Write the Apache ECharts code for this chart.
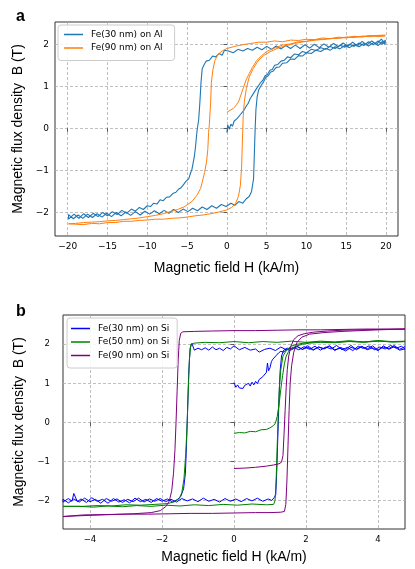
<!DOCTYPE html>
<html>
<head>
<meta charset="utf-8">
<script src="https://cdn.jsdelivr.net/npm/echarts@6/dist/echarts.min.js"></script>
<style>
html, body { margin: 0; padding: 0; background: #fff; }
#chart { width: 415px; height: 569px; }
</style>
</head>
<body>
<div id="chart"></div>
<script>
// ---- panel a: Fe on Al, H in kA/m, B in T ----
var al30Init = [[0,-0.1],[0.1,0.08],[0.3,-0.02],[0.5,0.1],[0.7,0.05],[0.9,0.17],[1.1,0.13],[1.3,0.24],[1.5,0.2],[1.7,0.33],[1.9,0.3],[2.1,0.42],[2.3,0.46],[2.5,0.55],[2.7,0.6],[2.9,0.7],[3.1,0.73],[3.3,0.82],[3.5,0.85],[3.7,0.94],[3.9,0.98],[4.2,1.08],[4.5,1.14],[4.8,1.25],[5.1,1.28],[5.4,1.38],[5.7,1.4],[6.0,1.5],[6.4,1.52],[6.8,1.6],[7.2,1.62],[7.6,1.7],[8.0,1.68],[8.5,1.77],[9.0,1.75],[9.5,1.83],[10,1.8],[10.6,1.88],[11.2,1.85],[11.8,1.92],[12.4,1.88],[13,1.95],[13.6,1.9],[14.2,1.98],[14.8,1.93],[15.4,2.0],[16,1.95],[16.6,2.03],[17.2,1.97],[17.8,2.06],[18.4,1.99],[19,2.08],[19.5,2.0],[19.9,2.1]];
var al30Down = [[19.9,2.02],[19.4,2.12],[18.8,2.0],[18.2,2.08],[17.6,1.98],[17,2.07],[16.4,1.96],[15.8,2.05],[15.2,1.95],[14.6,2.03],[14,1.94],[13.4,2.02],[12.8,1.93],[12.2,2.01],[11.6,1.92],[11,2.0],[10.4,1.91],[9.8,1.99],[9.2,1.9],[8.6,1.98],[8,1.9],[7.4,1.97],[6.8,1.89],[6.2,1.96],[5.6,1.88],[5,1.95],[4.4,1.87],[3.8,1.93],[3.2,1.86],[2.6,1.9],[2,1.84],[1.4,1.88],[0.8,1.8],[0.2,1.84],[-0.3,1.86],[-0.6,1.74],[-1,1.78],[-1.4,1.7],[-1.8,1.72],[-2.2,1.62],[-2.6,1.6],[-2.9,1.5],[-3.1,1.42],[-3.25,1.1],[-3.4,0.6],[-3.55,0.2],[-3.75,-0.05],[-3.95,-0.45],[-4.1,-0.68],[-4.4,-0.98],[-4.6,-1.08],[-4.8,-1.2],[-5.1,-1.25],[-5.5,-1.35],[-5.8,-1.42],[-6.1,-1.45],[-6.4,-1.52],[-6.8,-1.55],[-7.2,-1.63],[-7.6,-1.64],[-8,-1.72],[-8.4,-1.7],[-8.8,-1.8],[-9.2,-1.78],[-9.6,-1.86],[-10,-1.84],[-10.5,-1.93],[-11,-1.88],[-11.5,-1.97],[-12,-1.92],[-12.6,-2.02],[-13.2,-1.95],[-13.8,-2.05],[-14.4,-1.98],[-15,-2.08],[-15.6,-2.0],[-16.2,-2.1],[-16.8,-2.02],[-17.4,-2.12],[-18,-2.03],[-18.6,-2.14],[-19.2,-2.04],[-19.9,-2.16]];
var al30Up = [[-19.9,-2.05],[-19.3,-2.15],[-18.7,-2.06],[-18.1,-2.14],[-17.5,-2.04],[-16.9,-2.12],[-16.3,-2.03],[-15.7,-2.11],[-15.1,-2.02],[-14.5,-2.1],[-13.9,-2.0],[-13.3,-2.08],[-12.7,-1.99],[-12.1,-2.07],[-11.5,-1.98],[-10.9,-2.06],[-10.3,-1.97],[-9.7,-2.04],[-9.1,-1.96],[-8.5,-2.03],[-7.9,-1.95],[-7.3,-2.02],[-6.7,-1.93],[-6.1,-2.0],[-5.5,-1.92],[-4.9,-1.98],[-4.3,-1.9],[-3.7,-1.96],[-3.1,-1.87],[-2.5,-1.93],[-1.9,-1.84],[-1.3,-1.9],[-0.7,-1.81],[-0.1,-1.86],[0.5,-1.78],[1.0,-1.83],[1.5,-1.74],[2.0,-1.78],[2.4,-1.68],[2.8,-1.62],[3.1,-1.5],[3.35,-1.2],[3.45,-0.6],[3.55,0.0],[3.65,0.45],[3.8,0.75],[4.0,0.92],[4.3,1.02],[4.6,1.1],[4.9,1.22],[5.2,1.25],[5.5,1.34],[5.8,1.36],[6.2,1.45],[6.6,1.46],[7.0,1.55],[7.5,1.56],[8.0,1.65],[8.5,1.64],[9.0,1.73],[9.5,1.72],[10,1.8],[10.6,1.78],[11.2,1.86],[11.8,1.83],[12.4,1.9],[13,1.86],[13.6,1.94],[14.2,1.89],[14.8,1.97],[15.4,1.92],[16,1.99],[16.6,1.94],[17.2,2.02],[17.8,1.96],[18.4,2.04],[19,1.97],[19.5,2.06],[19.9,1.99]];

var al90Init = [[0,0.38],[0.4,0.43],[0.8,0.47],[1.2,0.56],[1.5,0.65],[1.8,0.82],[2.1,0.98],[2.4,1.15],[2.8,1.3],[3.2,1.45],[3.7,1.6],[4.3,1.72],[5,1.83],[6,1.91],[7,1.98],[8,2.01],[9,2.06],[10,2.07],[11,2.11],[12,2.11],[13,2.14],[14,2.14],[15,2.17],[16,2.16],[17,2.19],[18,2.18],[19,2.21],[19.9,2.2]];
var al90Down = [[19.9,2.22],[19,2.18],[18,2.21],[17,2.17],[16,2.19],[15,2.15],[14,2.17],[13,2.13],[12,2.15],[11,2.11],[10,2.12],[9,2.09],[8,2.1],[7,2.06],[6,2.08],[5,2.05],[4,2.05],[3,2.02],[2,1.99],[1,1.95],[0,1.9],[-0.6,1.84],[-1.1,1.76],[-1.5,1.62],[-1.75,1.4],[-1.95,1.1],[-2.05,0.6],[-2.2,0.1],[-2.3,-0.1],[-2.4,-0.5],[-2.55,-0.78],[-2.8,-1.05],[-3.3,-1.43],[-3.8,-1.6],[-4.4,-1.74],[-5.4,-1.87],[-6.2,-1.93],[-7.1,-1.98],[-8,-2.03],[-9,-2.07],[-10,-2.1],[-11,-2.13],[-12,-2.15],[-13,-2.17],[-14,-2.19],[-15,-2.2],[-16,-2.22],[-17,-2.23],[-18,-2.24],[-19,-2.26],[-19.9,-2.27]];
var al90Up = [[-19.9,-2.3],[-19,-2.28],[-18,-2.29],[-17,-2.26],[-16,-2.27],[-15,-2.24],[-14,-2.24],[-13,-2.21],[-12,-2.21],[-11,-2.19],[-10,-2.18],[-9,-2.16],[-8,-2.16],[-7,-2.14],[-6,-2.13],[-5,-2.11],[-4,-2.08],[-3,-2.06],[-2,-2.03],[-1,-1.99],[0,-1.94],[0.6,-1.88],[1.1,-1.78],[1.45,-1.62],[1.7,-1.35],[1.85,-0.9],[1.95,-0.3],[2.05,0.3],[2.2,0.65],[2.45,0.95],[2.8,1.22],[3.3,1.42],[3.9,1.6],[4.6,1.73],[5.4,1.82],[6.3,1.9],[7.3,1.96],[8.5,2.02],[10,2.07],[12,2.12],[14,2.15],[16,2.18],[18,2.2],[19.9,2.22]];

// ---- panel b: Fe on Si ----
var si30Init = [[0,1.02],[0.05,0.9],[0.1,0.96],[0.15,0.88],[0.2,0.93],[0.25,0.87],[0.3,0.95],[0.35,0.9],[0.4,1.0],[0.45,0.93],[0.5,1.03],[0.55,0.96],[0.6,1.05],[0.65,0.99],[0.7,1.1],[0.75,1.06],[0.8,1.17],[0.85,1.14],[0.9,1.28],[0.93,1.52],[0.96,1.32],[1.0,1.4],[1.04,1.56],[1.08,1.62],[1.13,1.6],[1.18,1.72],[1.24,1.78],[1.3,1.82],[1.38,1.8],[1.46,1.87],[1.55,1.84],[1.65,1.92],[1.8,1.86],[1.95,1.94],[2.1,1.87],[2.25,1.95],[2.4,1.85],[2.55,1.93],[2.7,1.88],[2.85,1.97],[3.0,1.86],[3.15,1.92],[3.3,1.84],[3.45,1.95],[3.6,1.89],[3.75,1.96],[3.9,1.86],[4.05,1.93],[4.2,1.88],[4.35,1.97],[4.5,1.9],[4.65,1.95],[4.75,1.88]];
var si30Down = [[4.75,1.93],[4.6,1.85],[4.45,1.94],[4.3,1.87],[4.15,1.96],[4.0,1.84],[3.85,1.91],[3.7,1.86],[3.55,1.95],[3.4,1.88],[3.25,1.92],[3.1,1.83],[2.95,1.9],[2.8,1.86],[2.65,1.96],[2.5,1.89],[2.35,1.93],[2.2,1.85],[2.05,1.92],[1.9,1.87],[1.75,1.95],[1.6,1.9],[1.45,1.86],[1.3,1.93],[1.15,1.84],[1.0,1.9],[0.85,1.87],[0.7,1.8],[0.6,1.88],[0.45,1.85],[0.3,1.92],[0.15,1.86],[0,1.96],[-0.1,1.88],[-0.2,1.92],[-0.3,1.84],[-0.4,1.9],[-0.5,1.86],[-0.6,1.93],[-0.7,1.85],[-0.8,1.91],[-0.9,1.86],[-1.0,1.9],[-1.1,1.85],[-1.17,2.02],[-1.22,1.9],[-1.26,1.2],[-1.29,0.3],[-1.32,-0.6],[-1.35,-1.3],[-1.4,-1.7],[-1.48,-1.9],[-1.58,-1.98],[-1.7,-2.04],[-1.85,-1.96],[-2.0,-2.02],[-2.15,-1.95],[-2.3,-2.05],[-2.45,-1.97],[-2.6,-2.03],[-2.75,-1.94],[-2.9,-2.06],[-3.05,-1.98],[-3.2,-2.04],[-3.35,-1.95],[-3.5,-2.07],[-3.65,-1.97],[-3.8,-2.02],[-3.95,-1.93],[-4.1,-2.05],[-4.25,-1.96],[-4.35,-2.03],[-4.45,-1.82],[-4.5,-2.02],[-4.6,-1.95],[-4.75,-2.04]];
var si30Up = [[-4.75,-1.97],[-4.6,-2.06],[-4.45,-1.96],[-4.3,-2.04],[-4.15,-1.94],[-4.0,-2.03],[-3.85,-1.97],[-3.7,-2.07],[-3.55,-1.95],[-3.4,-2.02],[-3.25,-1.96],[-3.1,-2.05],[-2.95,-1.97],[-2.8,-2.03],[-2.65,-1.94],[-2.5,-2.04],[-2.35,-1.96],[-2.2,-2.02],[-2.05,-1.95],[-1.9,-2.03],[-1.75,-1.97],[-1.6,-2.04],[-1.45,-1.95],[-1.3,-2.01],[-1.15,-1.96],[-1.0,-2.03],[-0.85,-1.94],[-0.7,-2.02],[-0.55,-1.97],[-0.4,-2.04],[-0.25,-1.95],[-0.1,-2.02],[0.05,-1.96],[0.2,-2.03],[0.35,-1.95],[0.5,-2.01],[0.65,-1.94],[0.8,-2.02],[0.95,-1.96],[1.05,-2.0],[1.12,-1.92],[1.16,-1.85],[1.19,-1.2],[1.22,-0.3],[1.25,0.6],[1.28,1.3],[1.32,1.7],[1.38,1.85],[1.48,1.9],[1.6,1.86],[1.75,1.94],[1.9,1.87],[2.05,1.96],[2.2,1.86],[2.35,1.93],[2.5,1.88],[2.65,1.95],[2.8,1.84],[2.95,1.92],[3.1,1.87],[3.25,1.97],[3.4,1.86],[3.55,1.94],[3.7,1.88],[3.85,1.96],[4.0,1.85],[4.15,1.93],[4.3,1.89],[4.45,1.97],[4.6,1.87],[4.75,1.94]];

var si50Init = [[0,-0.28],[0.15,-0.26],[0.3,-0.27],[0.45,-0.23],[0.6,-0.24],[0.75,-0.19],[0.9,-0.18],[1.0,-0.14],[1.1,-0.08],[1.15,-0.02],[1.2,0.15],[1.25,0.45],[1.3,0.85],[1.35,1.2],[1.4,1.5],[1.45,1.7],[1.52,1.82],[1.62,1.9],[1.75,1.96],[1.9,2.0],[2.1,2.03],[2.4,2.05],[2.8,2.04],[3.2,2.07],[3.6,2.05],[4.0,2.08],[4.4,2.06],[4.75,2.07]];
var si50Down = [[4.75,2.09],[4.4,2.06],[4.0,2.09],[3.6,2.06],[3.2,2.09],[2.8,2.06],[2.4,2.08],[2.0,2.05],[1.6,2.08],[1.2,2.05],[0.8,2.07],[0.4,2.04],[0,2.07],[-0.4,2.04],[-0.8,2.05],[-1.1,2.03],[-1.2,2.0],[-1.24,1.6],[-1.27,0.8],[-1.3,0.0],[-1.34,-0.8],[-1.39,-1.45],[-1.45,-1.8],[-1.52,-1.95],[-1.65,-2.03],[-1.85,-2.08],[-2.2,-2.1],[-2.6,-2.12],[-3.0,-2.11],[-3.4,-2.14],[-3.8,-2.13],[-4.2,-2.15],[-4.75,-2.15]];
var si50Up = [[-4.75,-2.17],[-4.3,-2.15],[-3.9,-2.17],[-3.5,-2.14],[-3.1,-2.16],[-2.7,-2.13],[-2.3,-2.15],[-1.9,-2.12],[-1.5,-2.14],[-1.1,-2.11],[-0.7,-2.13],[-0.3,-2.1],[0.1,-2.12],[0.5,-2.09],[0.9,-2.11],[1.1,-2.1],[1.14,-2.0],[1.17,-1.5],[1.2,-0.6],[1.23,0.2],[1.26,0.9],[1.3,1.35],[1.36,1.7],[1.46,1.85],[1.58,1.95],[1.75,2.0],[2.0,2.04],[2.4,2.06],[2.8,2.05],[3.2,2.08],[3.6,2.06],[4.0,2.09],[4.4,2.07],[4.75,2.08]];

var si90Init = [[0,-1.18],[0.3,-1.17],[0.6,-1.15],[0.9,-1.12],[1.1,-1.09],[1.25,-1.06],[1.32,-1.02],[1.36,-0.85],[1.39,-0.3],[1.42,0.3],[1.45,0.9],[1.48,1.35],[1.52,1.7],[1.58,1.95],[1.66,2.12],[1.78,2.22],[1.95,2.27],[2.2,2.31],[2.6,2.34],[3.0,2.36],[3.5,2.37],[4.0,2.38],[4.75,2.39]];
var si90Down = [[4.75,2.4],[4.2,2.39],[3.6,2.39],[3.0,2.38],[2.4,2.37],[1.8,2.37],[1.2,2.36],[0.6,2.35],[0,2.35],[-0.6,2.34],[-1.1,2.33],[-1.42,2.32],[-1.48,2.28],[-1.52,2.1],[-1.55,1.6],[-1.58,0.8],[-1.61,0.0],[-1.64,-0.7],[-1.68,-1.3],[-1.73,-1.75],[-1.8,-2.02],[-1.9,-2.16],[-2.05,-2.26],[-2.3,-2.31],[-2.8,-2.34],[-3.4,-2.36],[-4.0,-2.38],[-4.75,-2.41]];
var si90Up = [[-4.75,-2.38],[-4.2,-2.37],[-3.6,-2.36],[-3.0,-2.35],[-2.4,-2.35],[-1.8,-2.34],[-1.2,-2.33],[-0.6,-2.33],[0,-2.32],[0.6,-2.31],[1.0,-2.31],[1.3,-2.3],[1.4,-2.28],[1.44,-2.1],[1.47,-1.5],[1.5,-0.6],[1.53,0.3],[1.56,1.0],[1.6,1.45],[1.66,1.8],[1.75,2.05],[1.88,2.18],[2.1,2.26],[2.5,2.3],[3.0,2.33],[3.5,2.35],[4.0,2.37],[4.75,2.39]];

// ticks
var topTicksX = [-20, -15, -10, -5, 0, 5, 10, 15, 20];
var topTicksY = [-2, -1, 0, 1, 2];
var botTicksX = [-4, -2, 0, 2, 4];
var botTicksY = [-2, -1, 0, 1, 2];

var names = ['Fe(30 nm) on Al', 'Fe(90 nm) on Al', 'Fe(30 nm) on Si', 'Fe(50 nm) on Si', 'Fe(90 nm) on Si'];
var colors = ['#1f77b4', '#ff7f0e', '#0000ff', '#008000', '#800080'];

var tickFont = 'DejaVu Sans';
var labelFont = 'Liberation Sans, Arial, sans-serif';

function minus(v) { return String(v).replace('-', '\u2212'); }

function makeAxis(idx, min, max, ticks, name, gap, margin, fs) {
    return {
        type: 'value', gridIndex: idx, min: min, max: max,
        name: name, nameLocation: 'middle', nameGap: gap,
        nameTextStyle: { fontFamily: labelFont, fontSize: 14, color: '#000' },
        axisLine: { show: false },
        axisTick: { show: true, length: 3.5, customValues: ticks, lineStyle: { color: '#333', width: 0.8 } },
        axisLabel: { customValues: ticks, margin: margin, fontFamily: tickFont, fontSize: fs, color: '#000', formatter: minus },
        splitLine: { show: true, lineStyle: { color: '#b0b0b0', width: 0.8, type: [3, 2] } }
    };
}

function makeLine(name, color, data, idx, w) {
    return {
        name: name, type: 'line', data: data, xAxisIndex: idx, yAxisIndex: idx,
        symbol: 'none', showSymbol: false, clip: true, animation: false,
        lineStyle: { color: color, width: w }, itemStyle: { color: color }
    };
}

function makeLegend(list, left, top, padding) {
    return {
        data: list, orient: 'vertical', left: left, top: top, padding: padding,
        icon: 'rect', itemWidth: 19, itemHeight: 1.5, itemGap: 2.5,
        backgroundColor: 'rgba(255,255,255,0.85)', borderColor: '#cccccc', borderWidth: 1, borderRadius: 3,
        textStyle: { fontFamily: tickFont, fontSize: 9, color: '#000', lineHeight: 11, padding: [0, 0, 0, 3] },
        selectedMode: false
    };
}

var dom = document.getElementById('chart');
var myChart = echarts.init(dom);
var option = {
    backgroundColor: '#fff',
    animation: false,
    graphic: [
        { type: 'text', left: 16, top: 9, style: { text: 'a', font: 'bold 16px Liberation Sans', fill: '#000' } },
        { type: 'text', left: 16, top: 304, style: { text: 'b', font: 'bold 16px Liberation Sans', fill: '#000' } }
    ],
    grid: [
        { left: 55, top: 22, width: 343, height: 214, show: true, borderColor: '#333', borderWidth: 1, backgroundColor: 'transparent' },
        { left: 63, top: 315, width: 342, height: 214, show: true, borderColor: '#333', borderWidth: 1, backgroundColor: 'transparent' }
    ],
    xAxis: [
        makeAxis(0, -21.6, 21.5, topTicksX, 'Magnetic field H (kA/m)', 25, 6, 9),
        makeAxis(1, -4.75, 4.75, botTicksX, 'Magnetic field H (kA/m)', 21, 6, 8.5)
    ],
    yAxis: [
        makeAxis(0, -2.56, 2.53, topTicksY, 'Magnetic flux density  B (T)', 26, 6, 9),
        makeAxis(1, -2.73, 2.75, botTicksY, 'Magnetic flux density  B (T)', 34, 13, 8.5)
    ],
    legend: [
        makeLegend(names.slice(0, 2), 58, 25, [4, 12, 7, 6]),
        makeLegend(names.slice(2, 5), 67, 318, [5, 8, 7, 4])
    ],
    series: [
        makeLine(names[0], colors[0], al30Init.concat(al30Down, al30Up), 0, 1.1),
        makeLine(names[1], colors[1], al90Init.concat(al90Down, al90Up), 0, 1),
        makeLine(names[2], colors[2], si30Init.concat(si30Down, si30Up), 1, 1),
        makeLine(names[3], colors[3], si50Init.concat(si50Down, si50Up), 1, 1),
        makeLine(names[4], colors[4], si90Init.concat(si90Down, si90Up), 1, 1)
    ]
};
if (option && typeof option === "object") {
    myChart.setOption(option, true);
}
</script>
</body>
</html>
